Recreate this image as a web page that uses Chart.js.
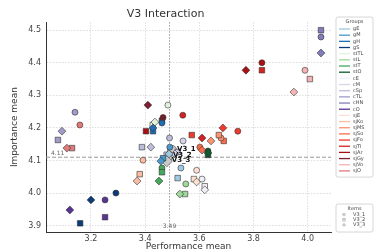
<!DOCTYPE html>
<html><head><meta charset="utf-8">
<script src="https://cdn.jsdelivr.net/npm/chart.js@4"></script>
<style>html,body{margin:0;padding:0;background:#fff}canvas{display:block}</style>
</head><body>
<canvas id="c" width="380" height="252"></canvas>
<script>
const groups = ['gE','gM','gH','gS','stTL','stL','stT','stO','cE','cM','cSp','cTL','cHN','cO','sjE','sjKo','sjMS','sjSo','sjFo','sjTl','sjAr','sjGy','sjVo','sjO'];
const itemNames = ['V3_1','V3_2','V3_3'];
// performance means per item (one value per group)
const perfV3_1 = [3.532,3.491,3.462,3.292,3.484,3.550,3.462,3.632,3.610,3.540,3.490,3.141,4.049,3.252,3.590,3.392,3.680,3.602,3.742,3.539,3.831,3.466,3.990,3.159];
const perfV3_2 = [3.520,3.466,3.429,3.160,3.428,3.547,3.462,3.632,3.620,3.520,3.388,3.078,4.049,3.252,3.580,3.380,3.672,3.690,3.572,3.831,3.403,3.462,4.008,3.130];
const perfV3_3 = [3.488,3.458,3.429,3.200,3.436,3.528,3.451,3.632,3.620,3.510,3.421,3.093,4.049,3.122,3.590,3.370,3.643,3.610,3.687,3.610,3.772,3.410,3.949,3.111];
// importance means per item
const impV3_1 = [4.077,4.141,4.215,4.000,4.270,4.028,4.077,4.129,4.043,4.160,4.169,4.248,4.479,3.979,4.070,4.101,4.169,4.141,4.190,4.239,4.400,4.232,4.377,4.209];
const impV3_2 = [4.046,4.107,4.190,3.907,4.209,3.997,4.064,4.117,4.021,4.126,4.141,4.163,4.500,3.926,4.043,4.058,4.178,4.160,4.178,4.377,4.190,4.222,4.350,4.138];
const impV3_3 = [4.120,4.098,4.200,3.979,4.218,3.997,4.037,4.123,4.010,4.120,4.141,4.190,4.430,3.948,4.034,4.037,4.160,4.132,4.200,4.169,4.377,4.270,4.310,4.138];
// overall item means
const overallPerf = [3.499,3.484,3.480];
const overallImp = [4.132,4.114,4.098];
const refPerf = 3.49, refImp = 4.11;
const xTicks = [3.2,3.4,3.6,3.8,4.0];
const yTicks = [3.9,4.0,4.1,4.2,4.3,4.4,4.5];

const palette = ['#9ecae1','#4a98c9','#1f6eb3','#0b3b7a','#e2f3dc','#a1d99b','#45a85d','#0f5a2e',
 '#f1eff6','#d6d5e9','#bcbddc','#a09cc9','#807dba','#5a3495',
 '#fde0d2','#fcbca2','#fc9474','#fb6c4b','#ef3b2c','#d42121','#a81016','#7b1f2e','#f6b3b3','#e07a7a'];
const shapes = ['circle','rect','rectRot'];
const radii = [3,3.9,3.9];

const datasets = groups.map((g,i)=>({
  label:g,
  data:[{x:perfV3_1[i],y:impV3_1[i]},{x:perfV3_2[i],y:impV3_2[i]},{x:perfV3_3[i],y:impV3_3[i]}],
  backgroundColor:palette[i], borderColor:'#333', borderWidth:0.6,
  pointStyle:shapes, pointRadius:radii
}));
datasets.push({
  label:'overall',
  data:overallPerf.map((p,k)=>({x:p,y:overallImp[k]})),
  backgroundColor:'#c9c9c9', borderColor:'#666', borderWidth:0.8,
  pointStyle:shapes, pointRadius:[4.6,5.6,5.6]
});

const FONT='DejaVu Sans';
const overlay = {
  id:'overlay',
  beforeDatasetsDraw(chart){
    const {ctx,chartArea:a,scales:{x,y}} = chart;
    ctx.save();
    ctx.strokeStyle='#999'; ctx.lineWidth=1;
    const px=x.getPixelForValue(refPerf), py=y.getPixelForValue(refImp);
    ctx.setLineDash([1.5,1.5]);
    ctx.beginPath(); ctx.moveTo(px,a.top); ctx.lineTo(px,a.bottom); ctx.stroke();
    ctx.setLineDash([4,2]);
    ctx.beginPath(); ctx.moveTo(a.left,py); ctx.lineTo(a.right,py); ctx.stroke();
    ctx.setLineDash([]);
    ctx.fillStyle='#666'; ctx.font='6px '+FONT;
    ctx.textAlign='left'; ctx.textBaseline='bottom';
    ctx.fillText(refImp.toFixed(2), a.left+5, py-1);
    ctx.textAlign='center';
    ctx.fillText(refPerf.toFixed(2), px, a.bottom-3);
    ctx.restore();
  },
  afterDatasetsDraw(chart){
    const {ctx,scales:{x,y}} = chart;
    ctx.save();
    ctx.fillStyle='#111'; ctx.font='bold 7px '+FONT;
    ctx.textAlign='left'; ctx.textBaseline='middle';
    itemNames.forEach((n,k)=>{
      ctx.fillText(n, x.getPixelForValue(overallPerf[k])+5, y.getPixelForValue(overallImp[k])-1);
    });
    ctx.restore();
  },
  afterDraw(chart){
    const ctx=chart.ctx;
    ctx.save();
    // Groups legend
    const bx=336, by=17, bw=37, step=6.17;
    const bh = 12 + groups.length*step;
    ctx.fillStyle='rgba(255,255,255,0.9)'; ctx.strokeStyle='#ccc'; ctx.lineWidth=0.8;
    ctx.beginPath(); ctx.roundRect(bx,by,bw,bh,2); ctx.fill(); ctx.stroke();
    ctx.fillStyle='#444'; ctx.font='5px '+FONT; ctx.textAlign='center'; ctx.textBaseline='middle';
    ctx.fillText('Groups', bx+bw/2, by+4.5);
    ctx.textAlign='left';
    groups.forEach((g,i)=>{
      const yy = by+12+i*step;
      ctx.strokeStyle=palette[i]; ctx.lineWidth=1.3;
      ctx.beginPath(); ctx.moveTo(bx+3,yy); ctx.lineTo(bx+14,yy); ctx.stroke();
      ctx.fillStyle='#444'; ctx.fillText(g, bx+17, yy);
    });
    // Items legend
    const iy=204, ih=28;
    ctx.fillStyle='rgba(255,255,255,0.9)'; ctx.strokeStyle='#ccc'; ctx.lineWidth=0.8;
    ctx.beginPath(); ctx.roundRect(bx,iy,bw,ih,2); ctx.fill(); ctx.stroke();
    ctx.fillStyle='#444'; ctx.textAlign='center';
    ctx.fillText('Items', bx+bw/2, iy+4.5);
    ctx.textAlign='left';
    itemNames.forEach((n,k)=>{
      const yy = iy+10.5+k*5.2;
      const mx = bx+8;
      ctx.fillStyle='#ccc';
      ctx.beginPath();
      if(k===0){ ctx.arc(mx,yy,1.8,0,Math.PI*2); }
      else if(k===1){ ctx.rect(mx-1.8,yy-1.8,3.6,3.6); }
      else { ctx.moveTo(mx,yy-2.2); ctx.lineTo(mx+2.2,yy); ctx.lineTo(mx,yy+2.2); ctx.lineTo(mx-2.2,yy); ctx.closePath(); }
      ctx.fill();
      ctx.fillStyle='#444'; ctx.fillText(n, bx+17, yy);
    });
    ctx.restore();
  }
};

new Chart(document.getElementById('c'),{
  type:'scatter',
  data:{datasets},
  options:{
    responsive:false, animation:false,
    layout:{padding:{left:0,right:49,top:0,bottom:0}},
    plugins:{
      legend:{display:false}, tooltip:{enabled:false},
      title:{display:true,text:'V3 Interaction',color:'#333',font:{family:FONT,size:11,weight:'normal'},padding:{top:8,bottom:1}}
    },
    scales:{
      x:{type:'linear',min:3.034,max:4.086,
        afterBuildTicks:s=>{s.ticks=xTicks.map(v=>({value:v}));},
        afterFit:s=>{s.height=20;},
        ticks:{color:'#444',font:{family:FONT,size:8},padding:2,callback:v=>v.toFixed(1),maxRotation:0},
        grid:{color:'#d4d4d4',lineWidth:0.8,drawTicks:false},
        border:{display:true,color:'#333',width:1,dash:[1.5,1.5]},
        title:{display:true,text:'Performance mean',color:'#333',font:{family:FONT,size:9},padding:0}
      },
      y:{type:'linear',min:3.8805,max:4.5245,
        afterBuildTicks:s=>{s.ticks=yTicks.map(v=>({value:v}));},
        afterFit:s=>{s.width=46;},
        ticks:{color:'#444',font:{family:FONT,size:8},padding:5,callback:v=>v.toFixed(1)},
        grid:{color:'#d4d4d4',lineWidth:0.8,drawTicks:false},
        border:{display:true,color:'#333',width:1,dash:[1.5,1.5]},
        title:{display:true,text:'Importance mean',color:'#333',font:{family:FONT,size:9},padding:{top:9,bottom:0}}
      }
    }
  },
  plugins:[overlay]
});
</script>
</body></html>
